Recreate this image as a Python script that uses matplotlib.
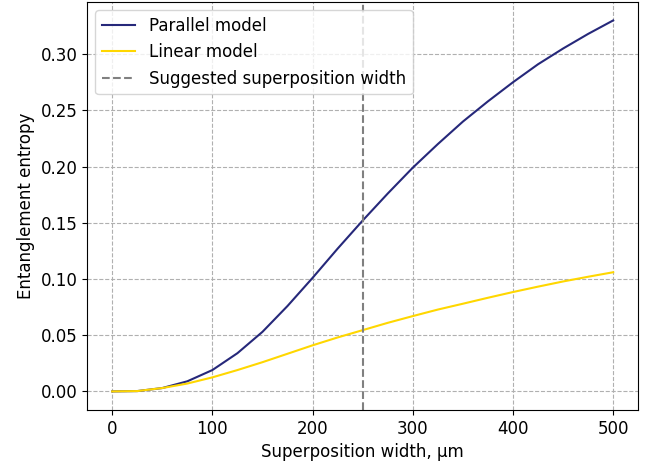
import numpy as np
import matplotlib
matplotlib.use("Agg")
import matplotlib.pyplot as plt

width = np.array([0, 25, 50, 75, 100, 125, 150, 175, 200, 225, 250,
                  275, 300, 325, 350, 375, 400, 425, 450, 475, 500])
parallel = np.array([0.000, 0.0003, 0.003, 0.009, 0.019, 0.034, 0.053, 0.076,
                     0.101, 0.127, 0.152, 0.176, 0.199, 0.220, 0.240, 0.258,
                     0.275, 0.291, 0.305, 0.318, 0.330])
linear = np.array([0.000, 0.0003, 0.003, 0.007, 0.0125, 0.019, 0.026, 0.0335,
                   0.041, 0.048, 0.0545, 0.061, 0.067, 0.0728, 0.078, 0.0833,
                   0.0884, 0.0932, 0.0978, 0.102, 0.106])
suggested = 250

plt.rcParams['font.size'] = 12

fig = plt.figure(figsize=(6.6, 4.68), dpi=100)
ax = fig.add_axes([0.132, 0.124, 0.835, 0.872])

ax.plot(width, parallel, color='#26287a', lw=1.5, label='Parallel model')
ax.plot(width, linear, color='#ffd700', lw=1.5, label='Linear model')
ax.axvline(suggested, color='grey', ls='--', lw=1.5, label='Suggested superposition width')

ax.grid(True, ls='--', color='#b0b0b0', lw=0.8)
ax.set_xlabel('Superposition width, µm')
ax.set_ylabel('Entanglement entropy')
ax.set_xticks([0, 100, 200, 300, 400, 500])
ax.set_yticks([0.00, 0.05, 0.10, 0.15, 0.20, 0.25, 0.30])
ax.yaxis.set_major_formatter(matplotlib.ticker.FormatStrFormatter('%.2f'))
ax.legend(loc='upper left')

fig.savefig('out.png', dpi=100)
